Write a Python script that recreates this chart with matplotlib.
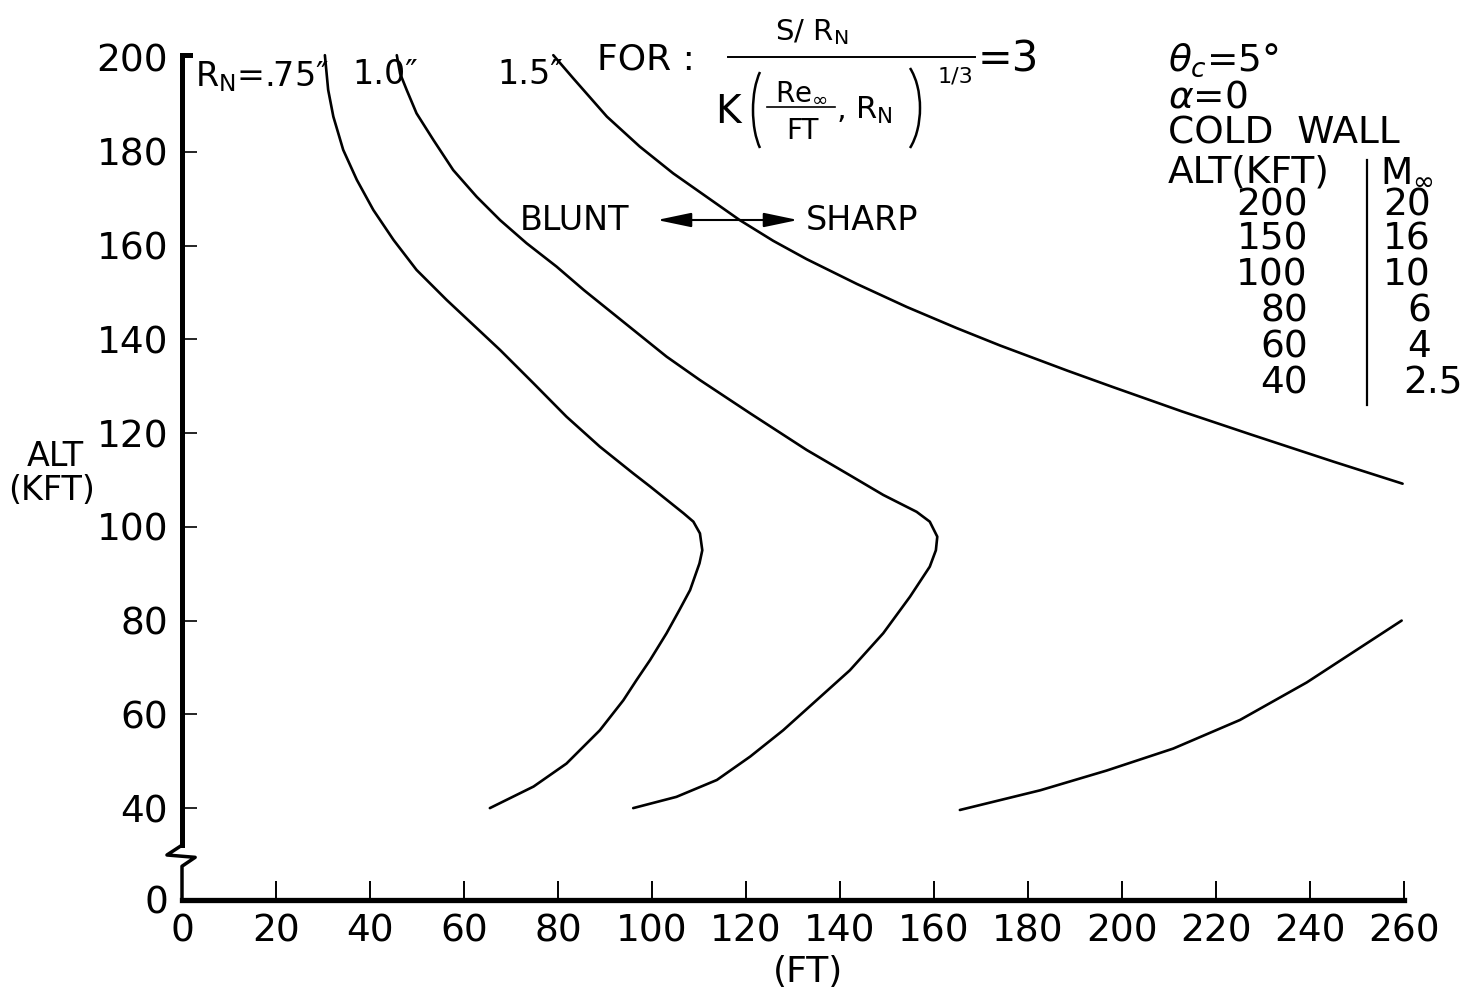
import matplotlib
matplotlib.use('Agg')
import matplotlib.pyplot as plt
import numpy as np
from matplotlib.patches import Arc, FancyArrowPatch

# curves: range (ft) vs altitude (kft)
rn_075_x = [30.4, 31.1, 32.2, 34.3, 37.2, 40.7, 45.0, 49.9, 56.3, 67.7, 74.8, 81.8, 88.9,
            96.0, 99.6, 106.7, 108.8, 110.2, 110.7, 110.1, 108.1, 105.8, 103.1,
            99.6, 96.7, 93.9, 88.9, 81.8, 74.8, 65.5]
rn_075_y = [200.6, 193.2, 187.5, 180.4, 174.0, 167.6, 161.2, 154.8, 148.4, 137.7, 130.6,
            123.5, 117.1, 111.4, 108.6, 102.9, 101.1, 98.6, 95.0, 92.2, 86.5, 82.2,
            77.3, 71.6, 67.3, 63.0, 56.6, 49.5, 44.6, 40.0]

rn_10_x = [45.7, 46.4, 47.8, 49.9, 53.5, 57.7, 62.7, 67.7, 73.3, 79.7, 85.5, 103.1,
           110.2, 120.9, 132.9, 142.1, 149.2, 156.3, 159.1, 160.7, 160.4, 159.1, 154.9,
           149.2, 142.1, 135.0, 127.9, 120.9, 113.8, 105.2, 96.0]
rn_10_y = [200.6, 196.7, 193.2, 188.2, 182.5, 176.1, 170.4, 165.4, 160.5, 155.5, 150.5,
           136.3, 131.3, 124.2, 116.4, 111.0, 106.8, 103.2, 101.1, 97.9, 95.0, 91.5,
           85.1, 77.3, 69.4, 63.0, 56.6, 51.0, 46.0, 42.4, 40.0]

rn_15_upper_x = [79.0, 83.3, 90.4, 97.4, 104.5, 111.6, 118.7, 125.8, 132.9, 143.6, 154.2,
                 164.8, 174.0, 188.4, 198.1, 212.8, 227.4, 245.0, 259.7]
rn_15_upper_y = [200.6, 195.6, 187.5, 181.1, 175.4, 170.4, 165.4, 161.0, 157.1, 151.8,
                 146.9, 142.4, 138.7, 133.3, 129.8, 124.6, 119.7, 113.9, 109.2]

rn_15_lower_x = [165.5, 182.6, 196.7, 210.9, 225.1, 239.3, 259.5]
rn_15_lower_y = [39.6, 43.8, 48.0, 52.7, 58.8, 66.8, 80.0]

x_ticks = [0, 20, 40, 60, 80, 100, 120, 140, 160, 180, 200, 220, 240, 260]
y_ticks = [40, 60, 80, 100, 120, 140, 160, 180]
y_labels = ['40', '60', '80', '100', '120', '140', '160', '180']

alt_table = ['200', '150', '100', '80', '60', '40']
mach_table = ['20', '16', '10', '6', '4', '2.5']

W, H = 1466, 1000

fig = plt.figure(figsize=(W / 100, H / 100), dpi=100)
ax = fig.add_axes([182 / W, 0.1, (1404 - 182) / W, (900 - 58) / H])
ax.set_xlim(0, 260)
ax.set_ylim(20.4, 200)

for xs, ys in [(rn_075_x, rn_075_y), (rn_10_x, rn_10_y),
               (rn_15_upper_x, rn_15_upper_y), (rn_15_lower_x, rn_15_lower_y)]:
    ax.plot(xs, ys, color='black', lw=1.9, clip_on=False,
            solid_capstyle='round', solid_joinstyle='round')

for s in ['top', 'right', 'left']:
    ax.spines[s].set_visible(False)
ax.spines['bottom'].set_linewidth(3.8)

# left axis with break
ax.plot([1.7, 0, 0], [200.6, 200.6, 32.1], color='black', lw=3.6, clip_on=False,
        solid_joinstyle='miter')
ax.plot([0, -3.2, 2.8, 0, 0], [32.1, 30.0, 29.5, 27.6, 20.4], color='black', lw=2.5,
        clip_on=False)

ax.set_xticks(x_ticks)
ax.set_xticklabels([str(v) for v in x_ticks])
ax.set_yticks(y_ticks + [20.4, 200])
ax.set_yticklabels(y_labels + ['0', '200'])
ax.tick_params(axis='x', direction='in', length=14, width=1.4, pad=10, labelsize=27)
ax.tick_params(axis='y', direction='in', length=11, width=1.2, pad=10, labelsize=27)
for t in ax.yaxis.get_major_ticks()[-2:]:
    t.tick1line.set_visible(False)

# overlay in pixel units for the lettering
ov = fig.add_axes([0, 0, 1, 1])
ov.set_xlim(0, W)
ov.set_ylim(H, 0)
ov.axis('off')

ov.text(55, 457, 'ALT', fontsize=24, ha='center', va='center')
ov.text(52, 490, '(KFT)', fontsize=24, ha='center', va='center')
ov.text(808, 972, '(FT)', fontsize=26, ha='center', va='center')

# curve labels
ov.text(195, 77, r'R$_\mathregular{N}$=.75″', fontsize=24, ha='left', va='center')
ov.text(352, 75, '1.0″', fontsize=24, ha='left', va='center')
ov.text(497, 75, '1.5″', fontsize=24, ha='left', va='center')


def paren(cx, cy, a, b, left):
    # tall thin bracket as an elliptic arc, half-opening 50 deg (parametric)
    geo = np.degrees(np.arctan2(b * np.sin(np.radians(50)), a * np.cos(np.radians(50))))
    if left:
        t1, t2 = 180 - geo, 180 + geo
    else:
        t1, t2 = -geo, geo
    ov.add_patch(Arc((cx, cy), 2 * a, 2 * b, theta1=t1, theta2=t2, color='black', lw=1.8))


# parameter expression
ov.text(597, 60, 'FOR :', fontsize=26, ha='left', va='center')
ov.text(812, 32, r'S/ R$_\mathregular{N}$', fontsize=21, ha='center', va='center')
ov.plot([728, 975], [57, 57], color='black', lw=1.4)
ov.text(728, 112, 'K', fontsize=28, ha='center', va='center')
paren(772.6, 110, 19.6, 49.6, True)
ov.text(801, 92, r'Re$_\infty$', fontsize=20, ha='center', va='center')
ov.plot([767, 835], [107, 107], color='black', lw=1.2)
ov.text(802, 131, 'FT', fontsize=20, ha='center', va='center')
ov.text(836, 110, r', R$_\mathregular{N}$', fontsize=22, ha='left', va='center')
paren(892, 108, 28, 52.2, False)
ov.text(955, 76, '1/3', fontsize=16, ha='center', va='center')
ov.text(978, 60, '=3', fontsize=30, ha='left', va='center')

# blunt / sharp arrow
ov.text(520, 220, 'BLUNT', fontsize=24, ha='left', va='center')
ov.text(806, 220, 'SHARP', fontsize=24, ha='left', va='center')
ov.add_patch(FancyArrowPatch((657, 220), (798, 220),
                             arrowstyle='<|-|>,head_length=1.05,head_width=0.22',
                             mutation_scale=20, color='black', lw=1.5,
                             shrinkA=0, shrinkB=0))

# conditions block
ov.text(1168, 60, r'$\theta_c$=5°', fontsize=27, ha='left', va='center')
ov.text(1168, 98, r'$\alpha$=0', fontsize=27, ha='left', va='center')
ov.text(1168, 134, 'COLD  WALL', fontsize=27, ha='left', va='center')
ov.text(1168, 172, 'ALT(KFT)', fontsize=27, ha='left', va='center')
ov.text(1380, 172, r'M$_\infty$', fontsize=27, ha='left', va='center')
ov.plot([1367, 1367], [160, 405], color='black', lw=1.6)
row_y = [205, 239, 275, 311, 347, 383]
for i in range(len(alt_table)):
    ov.text(1308, row_y[i], alt_table[i], fontsize=27, ha='right', va='center')
    if mach_table[i] == '2.5':
        ov.text(1403, row_y[i], mach_table[i], fontsize=27, ha='left', va='center')
    else:
        ov.text(1431, row_y[i], mach_table[i], fontsize=27, ha='right', va='center')

fig.savefig('out.png', dpi=100)
